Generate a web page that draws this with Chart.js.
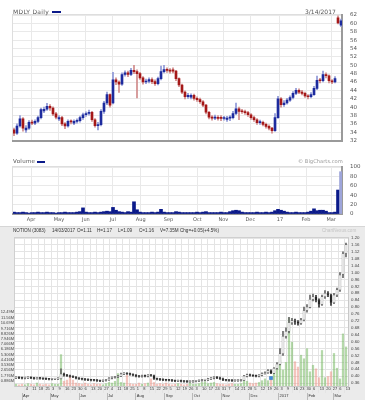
<!DOCTYPE html>
<html>
<head>
<meta charset="utf-8">
<title>MDLY Daily / NOTION (3083)</title>
<script src="https://cdn.jsdelivr.net/npm/chart.js@4.4.1/dist/chart.umd.min.js"></script>
<style>
  html, body { margin: 0; padding: 0; }
  body { width: 365px; height: 400px; position: relative; overflow: hidden; background: #fff; font-family: "DejaVu Sans", sans-serif; }
  canvas { position: absolute; left: 0; }
  .txt { position: absolute; white-space: nowrap; line-height: 1; }
  .key { position: absolute; height: 2px; background: #0b1a8a; }
  .nx { font-family: "Liberation Sans", sans-serif; font-size: 4.6px; color: #333; top: 229px; }
  #nxPanel { position: absolute; left: 0; top: 226px; width: 365px; height: 174px; background: #ebebeb; border-top: 1px solid #d6d6d6; box-sizing: border-box; }
</style>
</head>
<body>
<div id="nxPanel"></div>
<canvas id="priceChart" width="365" height="152" style="top:0"></canvas>
<canvas id="volChart" width="365" height="71" style="top:155px"></canvas>
<canvas id="nxChart" width="365" height="174" style="top:226px"></canvas>

<div class="txt" style="left:13px;top:9px;font-size:6px;letter-spacing:0.3px;color:#555">MDLY Daily</div>
<div class="key" style="left:52px;top:11px;width:9px"></div>
<div class="txt" style="left:305px;top:9px;font-size:6px;color:#555">3/14/2017</div>
<div class="txt" style="left:13px;top:159px;font-size:5.5px;letter-spacing:0.3px;color:#555">Volume</div>
<div class="key" style="left:37px;top:161px;width:8px"></div>
<div class="txt" style="left:298px;top:159px;font-size:5.2px;color:#9a9a9a">© BigCharts.com</div>

<div class="txt nx" style="left:13px">NOTION (3083)</div>
<div class="txt nx" style="left:52px">14/03/2017</div>
<div class="txt nx" style="left:77px">O=1.11</div>
<div class="txt nx" style="left:97px">H=1.17</div>
<div class="txt nx" style="left:118px">L=1.09</div>
<div class="txt nx" style="left:139px">C=1.16</div>
<div class="txt nx" style="left:160px">V=7.35M</div>
<div class="txt nx" style="left:180px">Chg=+0.05(+4.5%)</div>
<div class="txt nx" style="left:322px;color:#c4c4c4">ChartNexus.com</div>

<script>
// ---------- MDLY daily (one candle every ~2.3 sessions) ----------
const mdlyOpen = [
  34.6,33.8,35.5,37.2,34.6,35.0,36.4,36.2,36.6,37.5,
  39.1,39.5,40.2,39.8,38.4,37.2,37.5,36.0,35.5,36.6,
  36.2,36.6,36.8,37.5,38.2,38.5,38.8,37.0,35.6,35.8,
  39.0,41.0,43.0,41.0,46.5,46.0,45.5,47.8,48.2,47.8,
  48.8,48.5,48.0,47.0,46.0,46.2,46.6,46.1,45.6,46.8,
  48.5,49.0,48.8,48.9,48.6,46.8,45.3,43.6,42.5,42.4,
  42.8,42.1,41.8,41.3,40.5,38.8,37.6,37.4,37.6,37.6,
  37.3,37.1,37.4,37.5,38.5,39.6,39.0,38.9,38.7,38.2,
  37.5,37.0,36.3,36.4,35.9,35.4,35.0,34.4,37.5,42.0,
  40.6,41.0,41.7,42.3,43.3,44.0,43.6,43.3,42.7,42.5,
  43.0,44.5,46.4,46.3,47.8,47.5,46.3,46.0,61.3,59.6
];
const mdlyClose = [
  33.8,35.5,37.2,35.0,35.0,36.4,36.2,36.6,37.5,39.4,
  39.5,40.2,39.8,38.4,37.6,37.5,36.0,35.5,36.6,36.5,
  36.6,36.8,37.5,38.2,38.5,38.8,37.0,35.6,35.8,39.0,
  41.0,43.0,40.5,46.5,46.0,45.5,47.8,48.2,47.8,48.8,
  48.5,48.0,47.0,46.0,46.2,46.6,46.1,45.6,46.8,48.5,
  49.0,48.8,48.6,48.6,46.8,45.3,43.6,42.5,42.8,42.8,
  42.1,41.8,41.3,40.5,38.8,37.6,37.4,37.6,37.3,37.3,
  37.4,37.4,37.5,38.5,39.6,39.0,38.9,38.7,38.2,37.5,
  37.0,36.3,36.4,35.9,35.4,35.0,34.4,37.5,42.0,40.6,
  41.0,41.7,42.3,43.3,44.0,43.6,43.3,42.7,42.5,43.0,
  44.5,46.4,46.3,47.8,47.5,46.3,46.0,46.8,60.1,60.6
];
const mdlyHigh = [
  35.0,36.0,38.0,37.5,35.6,36.8,36.9,37.0,37.9,39.8,
  40.0,40.9,40.6,40.1,38.8,38.0,37.8,36.3,37.0,37.0,
  37.0,37.2,37.9,38.6,38.9,39.3,39.0,37.3,36.4,39.4,
  41.4,43.6,43.2,48.3,47.0,46.3,48.2,48.7,48.6,49.3,
  50.0,48.9,48.3,47.3,46.7,47.0,47.0,46.5,47.2,49.8,
  50.0,49.4,49.2,49.4,48.8,47.0,45.5,43.9,43.3,43.2,
  43.1,42.5,42.2,41.6,40.7,39.0,38.0,38.1,38.0,38.0,
  37.8,37.8,38.0,39.0,41.0,40.0,39.5,39.3,39.0,38.5,
  37.9,37.3,36.9,36.7,36.2,35.8,35.2,38.5,42.6,42.3,
  41.6,42.1,42.7,43.7,44.5,44.4,44.0,43.6,43.0,43.5,
  45.0,47.4,46.9,48.6,48.2,47.7,46.6,47.3,61.8,61.0
];
const mdlyLow = [
  33.2,33.5,35.2,34.3,34.0,34.7,35.8,35.8,36.3,37.2,
  38.7,39.2,39.2,38.0,37.2,36.8,35.6,34.9,35.2,36.0,
  35.8,36.2,36.4,37.1,37.8,38.1,36.6,35.2,34.6,35.5,
  38.5,40.6,40.0,40.8,45.4,43.5,45.2,47.4,47.3,47.5,
  48.0,42.2,46.6,45.5,45.6,45.8,45.6,45.2,45.3,46.5,
  48.2,48.3,48.1,48.2,46.3,44.9,43.2,42.0,42.1,42.0,
  41.7,41.4,40.9,40.1,38.4,37.2,36.9,37.0,36.9,36.8,
  36.9,36.6,36.8,37.2,38.2,37.0,38.5,38.3,37.8,37.1,
  36.6,35.9,35.9,35.5,35.0,34.6,33.8,34.2,37.3,40.0,
  40.2,40.7,41.4,42.0,43.0,43.2,42.9,42.3,42.0,42.2,
  42.8,44.2,45.8,46.0,47.0,45.8,45.6,45.8,59.9,59.2
];
const mdlyVolume = [
  4,3,3,4,3,2,3,3,4,3,
  3,4,3,3,2,3,3,4,3,3,
  3,4,5,13,4,3,3,4,3,4,
  5,6,5,14,8,5,4,3,5,4,
  26,9,4,3,3,3,4,3,4,10,
  4,3,3,3,5,4,3,3,3,3,
  3,4,3,4,5,3,3,3,3,4,
  3,3,5,7,8,7,4,3,3,3,
  3,4,3,3,4,3,4,7,10,8,
  6,4,3,3,4,3,3,3,4,6,
  11,7,8,8,6,3,3,4,51,90
];
const mdlyMonthNames = ["Apr","May","Jun","Jul","Aug","Sep","Oct","Nov","Dec","17","Feb","Mar"];
const mdlyMonthStarts = ["2016-04-01","2016-05-02","2016-06-01","2016-07-01","2016-08-01","2016-09-01",
  "2016-10-03","2016-11-01","2016-12-01","2017-01-03","2017-02-01","2017-03-01"];

// ---------- NOTION (3083), Bursa Malaysia ----------
const nxOpen = [
  0.390,0.392,0.390,0.388,0.390,0.392,0.389,0.386,0.388,0.387,
  0.385,0.384,0.382,0.383,0.384,0.386,0.412,0.405,0.402,0.398,
  0.395,0.388,0.385,0.382,0.380,0.378,0.377,0.376,0.374,0.372,
  0.375,0.378,0.388,0.392,0.395,0.400,0.412,0.415,0.414,0.410,
  0.405,0.400,0.398,0.402,0.400,0.405,0.404,0.385,0.382,0.380,
  0.378,0.377,0.376,0.374,0.372,0.373,0.370,0.369,0.368,0.368,
  0.370,0.372,0.375,0.377,0.378,0.384,0.388,0.393,0.390,0.385,
  0.378,0.376,0.375,0.374,0.374,0.375,0.376,0.400,0.408,0.404,
  0.402,0.400,0.405,0.415,0.420,0.432,0.418,0.445,0.470,0.530,
  0.630,0.660,0.710,0.720,0.715,0.705,0.725,0.780,0.800,0.845,
  0.860,0.840,0.815,0.860,0.880,0.870,0.825,0.870,0.900,0.990,1.110
];
const nxClose = [
  0.392,0.390,0.388,0.390,0.392,0.389,0.386,0.388,0.387,0.385,
  0.384,0.382,0.383,0.384,0.386,0.412,0.405,0.402,0.398,0.395,
  0.388,0.385,0.382,0.380,0.378,0.377,0.376,0.374,0.372,0.375,
  0.378,0.388,0.392,0.395,0.400,0.412,0.415,0.414,0.410,0.405,
  0.400,0.398,0.402,0.400,0.405,0.404,0.385,0.382,0.380,0.378,
  0.377,0.376,0.374,0.372,0.373,0.370,0.369,0.368,0.368,0.370,
  0.372,0.375,0.377,0.378,0.384,0.388,0.393,0.390,0.385,0.378,
  0.376,0.375,0.374,0.374,0.375,0.376,0.400,0.408,0.404,0.402,
  0.400,0.405,0.415,0.420,0.432,0.418,0.445,0.470,0.530,0.630,
  0.660,0.710,0.720,0.715,0.705,0.725,0.780,0.800,0.845,0.860,
  0.840,0.815,0.860,0.880,0.870,0.825,0.870,0.900,0.985,1.110,1.160
];
const nxHigh = [
  0.396,0.396,0.394,0.394,0.396,0.396,0.393,0.392,0.392,0.391,
  0.389,0.388,0.387,0.388,0.390,0.442,0.418,0.410,0.406,0.402,
  0.398,0.392,0.389,0.386,0.384,0.382,0.381,0.380,0.378,0.379,
  0.382,0.392,0.396,0.399,0.405,0.418,0.420,0.419,0.418,0.414,
  0.409,0.404,0.406,0.406,0.409,0.409,0.406,0.389,0.386,0.384,
  0.382,0.381,0.380,0.378,0.377,0.377,0.374,0.373,0.372,0.374,
  0.376,0.379,0.381,0.382,0.388,0.392,0.398,0.397,0.394,0.389,
  0.382,0.380,0.379,0.378,0.379,0.380,0.405,0.412,0.412,0.408,
  0.406,0.409,0.419,0.425,0.438,0.436,0.450,0.478,0.560,0.660,
  0.680,0.740,0.735,0.730,0.722,0.735,0.800,0.815,0.870,0.875,
  0.868,0.848,0.870,0.895,0.890,0.875,0.880,0.910,1.000,1.120,1.170
];
const nxLow = [
  0.386,0.386,0.384,0.384,0.386,0.385,0.382,0.382,0.383,0.381,
  0.380,0.378,0.378,0.379,0.380,0.384,0.400,0.398,0.394,0.391,
  0.384,0.381,0.378,0.376,0.374,0.373,0.372,0.370,0.368,0.368,
  0.371,0.375,0.384,0.388,0.391,0.397,0.408,0.410,0.406,0.401,
  0.396,0.394,0.394,0.396,0.396,0.400,0.381,0.378,0.376,0.374,
  0.373,0.372,0.370,0.368,0.368,0.366,0.365,0.364,0.364,0.364,
  0.366,0.368,0.371,0.373,0.374,0.380,0.384,0.386,0.381,0.374,
  0.372,0.371,0.370,0.370,0.370,0.371,0.374,0.396,0.400,0.398,
  0.396,0.396,0.401,0.411,0.416,0.414,0.414,0.440,0.465,0.520,
  0.620,0.650,0.700,0.700,0.695,0.700,0.720,0.770,0.795,0.835,
  0.830,0.800,0.810,0.850,0.860,0.810,0.820,0.860,0.890,0.970,1.090
];
const nxVolume = [ // millions of shares
  0.3,0.2,0.3,0.2,0.4,0.3,0.2,0.5,0.3,0.2,
  0.3,0.2,0.4,0.3,0.3,5.3,0.8,1.0,1.7,1.0,
  0.5,0.4,0.3,0.5,0.3,0.2,0.4,0.3,0.3,0.2,
  0.4,0.6,0.5,0.8,2.1,0.6,0.5,1.8,0.4,0.3,
  0.3,0.5,0.3,0.4,0.5,1.2,0.6,0.3,0.4,0.3,
  0.5,0.3,0.2,0.3,0.4,0.3,0.2,0.3,0.5,0.3,
  0.3,0.4,0.6,0.7,0.4,0.5,0.6,0.4,0.3,0.3,
  0.2,0.3,0.4,0.3,0.3,0.4,1.2,0.8,0.5,0.4,
  0.5,0.6,0.9,1.2,0.9,1.4,2.4,3.5,4.3,2.7,
  4.0,11.5,7.4,4.1,3.2,5.2,4.6,6.3,2.4,3.5,
  2.9,1.4,6.0,1.4,1.6,2.4,5.5,3.0,1.2,8.8,6.6
];
const nxSignalAt = [85];
const nxSignalPrice = [0.389];
const nxPriceTicks = [0.36,0.40,0.44,0.48,0.52,0.56,0.60,0.64,0.68,0.72,0.76,0.80,
  0.84,0.88,0.92,0.96,1.00,1.04,1.08,1.12,1.16,1.20];
const nxVolTicks = [0.886,1.776,2.656,3.536,4.416,5.306,6.186,7.066,7.946,8.826,9.716,10.69,11.56,12.49];
const nxVolTickLabels = ["0.886M","1.776M","2.656M","3.536M","4.416M","5.306M","6.186M","7.066M",
  "7.946M","8.826M","9.716M","10.69M","11.56M","12.49M"];
const nxWeekLabels = ["4","11","18","25","3","9","16","23","30","6","13","20","27","4","11","18","25",
  "1","8","15","22","29","5","12","19","26","3","10","17","24","31","7","14","21","28",
  "5","12","19","26","3","9","16","23","30","6","13","20","27","6","13"];
const nxMonthNames = ["Apr","May","Jun","Jul","Aug","Sep","Oct","Nov","Dec","2017","Feb","Mar"];
const nxMonthStarts = ["2016-04-01","2016-05-01","2016-06-01","2016-07-01","2016-08-01","2016-09-01",
  "2016-10-01","2016-11-01","2016-12-01","2017-01-01","2017-02-01","2017-03-01"];

/* =========================
   HELPERS
========================= */
Chart.defaults.font.family = "'DejaVu Sans', sans-serif";
Chart.defaults.animation = false;
Chart.defaults.plugins.legend.display = false;
Chart.defaults.plugins.tooltip.enabled = false;

const DAY = 86400000;
function daysSince(from, to) {
  return (Date.parse(to) - Date.parse(from)) / DAY;
}
// calendar date -> candle index on each chart's x axis
const mdlyIndex = d => daysSince("2016-03-13", d) * 0.2995;
const nxIndex = d => 3 + daysSince("2016-04-04", d) * 0.31095;

const plotBackground = {
  id: "plotBackground",
  beforeDraw(chart, args, opts) {
    if (!opts || !opts.color) return;
    const { ctx, chartArea: a } = chart;
    ctx.save();
    ctx.fillStyle = opts.color;
    ctx.fillRect(a.left, a.top, a.right - a.left, a.bottom - a.top);
    if (opts.border) {
      ctx.strokeStyle = opts.border;
      ctx.lineWidth = 1;
      ctx.strokeRect(a.left - 0.5, a.top - 0.5, a.right - a.left + 1, a.bottom - a.top + 1);
    }
    ctx.restore();
  }
};
Chart.register(plotBackground);

function candleSets(open, close, high, low, look, axis) {
  const up = open.map((o, i) => close[i] >= o);
  return [
    {
      type: "bar", order: 2, grouped: false, yAxisID: axis,
      data: high.map((h, i) => ({ x: i, y: [low[i], h] })),
      backgroundColor: up.map(u => (u ? look.upWick : look.downWick)),
      barThickness: 1
    },
    {
      type: "bar", order: 1, grouped: false, yAxisID: axis,
      data: open.map((o, i) => ({ x: i, y: [o, close[i]] })),
      backgroundColor: up.map(u => (u ? look.up : look.down)),
      borderColor: look.edge || "transparent",
      borderWidth: look.edge ? 0.5 : 0,
      borderSkipped: false,
      barThickness: look.width,
      minBarLength: 1
    }
  ];
}

// linear index axis shared by the three panels (no bar offset, ticks set by hand)
function indexAxis(min, max, tickValues, extra) {
  return Object.assign({
    type: "linear", min: min, max: max, offset: false,
    afterBuildTicks: s => { s.ticks = tickValues.map(v => ({ value: v })); }
  }, extra);
}

/* =========================
   MDLY PRICE
========================= */
function initPriceChart() {
  const monthIdx = mdlyMonthStarts.map(mdlyIndex);
  new Chart(document.getElementById("priceChart"), {
    type: "bar",
    data: {
      datasets: candleSets(mdlyOpen, mdlyClose, mdlyHigh, mdlyLow, {
        up: "#1d2b9e", down: "#a51818", upWick: "#8d96d6", downWick: "#d08a8a", width: 2
      }, "y")
    },
    options: {
      responsive: false,
      layout: { padding: { left: 13, top: 15, right: 0, bottom: 2 } },
      plugins: { plotBackground: { color: "#fff", border: "#dedede" } },
      scales: {
        x: indexAxis(-0.33, 109.33, monthIdx, {
          afterFit: s => { s.height = 0; },
          ticks: { display: false },
          grid: { color: "#e9e9e9", drawTicks: false, offset: false },
          border: { color: "#9a9a9a", width: 2 }
        }),
        y: {
          position: "right", min: 32, max: 62,
          afterFit: s => { s.width = 23; },
          ticks: { stepSize: 2, autoSkip: false, color: "#555", font: { size: 5.5 }, padding: 8 },
          grid: { color: "#e9e9e9", drawTicks: false },
          border: { color: "#9a9a9a", width: 2 }
        }
      }
    }
  });
}

/* =========================
   MDLY VOLUME
========================= */
function initVolumeChart() {
  const monthIdx = mdlyMonthStarts.map(mdlyIndex);
  const last = mdlyVolume.length - 1;
  new Chart(document.getElementById("volChart"), {
    type: "bar",
    data: {
      datasets: [{
        data: mdlyVolume.map((v, i) => ({ x: i, y: v })),
        backgroundColor: mdlyVolume.map((v, i) => (i === last ? "#9ea5da" : "#0b1a8a")),
        barPercentage: 1, categoryPercentage: 1
      }]
    },
    options: {
      responsive: false,
      layout: { padding: { left: 13, top: 12, right: 0, bottom: 0 } },
      plugins: { plotBackground: { color: "#fff", border: "#dedede" } },
      scales: {
        x: indexAxis(-0.33, 109.33, monthIdx, {
          afterFit: s => { s.height = 12; },
          ticks: { callback: (v, i) => mdlyMonthNames[i], color: "#555", font: { size: 5 }, padding: 3, maxRotation: 0, autoSkip: false },
          grid: { color: "#e9e9e9", drawTicks: false, offset: false },
          border: { color: "#9a9a9a", width: 2 }
        }),
        y: {
          position: "right", min: 0, max: 100,
          afterFit: s => { s.width = 23; },
          ticks: { stepSize: 20, autoSkip: false, color: "#555", font: { size: 5.5 }, padding: 8 },
          grid: { color: "#e9e9e9", drawTicks: false },
          border: { color: "#9a9a9a", width: 2 }
        }
      }
    }
  });
}

/* =========================
   NOTION (CHARTNEXUS STYLE)
========================= */
function initNotionChart() {
  const weekIdx = nxWeekLabels.map((t, k) => 3 + k * 2.1767);
  const monthIdx = nxMonthStarts.map(nxIndex);
  const up = nxOpen.map((o, i) => nxClose[i] >= o);
  const small = { family: "'Liberation Sans', sans-serif", size: 4 };

  const datasets = [
    {
      type: "bar", order: 3, grouped: false, yAxisID: "yv",
      data: nxVolume.map((v, i) => ({ x: i, y: v })),
      backgroundColor: up.map(u => (u ? "rgba(120,185,100,0.55)" : "rgba(235,140,125,0.5)")),
      barThickness: 1.6
    },
    ...candleSets(nxOpen, nxClose, nxHigh, nxLow, {
      up: "#ffffff", down: "#1e1e1e", upWick: "#666", downWick: "#333", edge: "#555", width: 2
    }, "y"),
    {
      type: "scatter", order: 0, yAxisID: "y",
      data: nxSignalAt.map((x, k) => ({ x: x, y: nxSignalPrice[k] })),
      pointStyle: "rect", pointRadius: 2.2,
      backgroundColor: "#3b8fdc", borderColor: "#2a6fb8", borderWidth: 0.5
    }
  ];

  new Chart(document.getElementById("nxChart"), {
    type: "bar",
    data: { datasets },
    options: {
      responsive: false,
      layout: { padding: { left: 0, top: 12, right: 0, bottom: 0 } },
      plugins: { plotBackground: { color: "#fff", border: "#cfcfcf" } },
      scales: {
        x: indexAxis(-0.33, 110.67, weekIdx, {
          weight: 0,
          afterFit: s => { s.height = 7; },
          ticks: { callback: (v, i) => nxWeekLabels[i], align: "start", labelOffset: 0.8, padding: -6.5,
                   color: "#333", font: small, maxRotation: 0, autoSkip: false },
          grid: { color: "#e4e4e4", tickLength: 7, offset: false },
          border: { color: "#c8c8c8" }
        }),
        x2: indexAxis(-0.33, 110.67, monthIdx, {
          position: "bottom", weight: 1,
          afterFit: s => { s.height = 7; },
          ticks: { callback: (v, i) => nxMonthNames[i], align: "start", labelOffset: 0.8, padding: -6.5,
                   color: "#333", font: small, maxRotation: 0, autoSkip: false },
          grid: { drawOnChartArea: false, color: "#b9b9b9", tickLength: 7, offset: false },
          border: { display: false }
        }),
        y: {
          position: "right", min: 0.343, max: 1.2,
          afterBuildTicks: s => { s.ticks = nxPriceTicks.map(v => ({ value: v })); },
          afterFit: s => { s.width = 17; },
          ticks: { callback: v => v.toFixed(2), autoSkip: false, color: "#444",
                   font: { family: "'Liberation Sans', sans-serif", size: 4.4 }, padding: 3 },
          grid: { color: "#e4e4e4", drawTicks: false },
          border: { color: "#c8c8c8" }
        },
        yv: {
          position: "left", min: 0, max: 25,
          afterBuildTicks: s => { s.ticks = nxVolTicks.map(v => ({ value: v })); },
          afterFit: s => { s.width = 15; },
          ticks: { callback: (v, i) => nxVolTickLabels[i], autoSkip: false, color: "#444", font: small, padding: 1 },
          grid: { display: false, drawTicks: false },
          border: { display: false }
        }
      }
    }
  });
}

initPriceChart();
initVolumeChart();
initNotionChart();
</script>
</body>
</html>
